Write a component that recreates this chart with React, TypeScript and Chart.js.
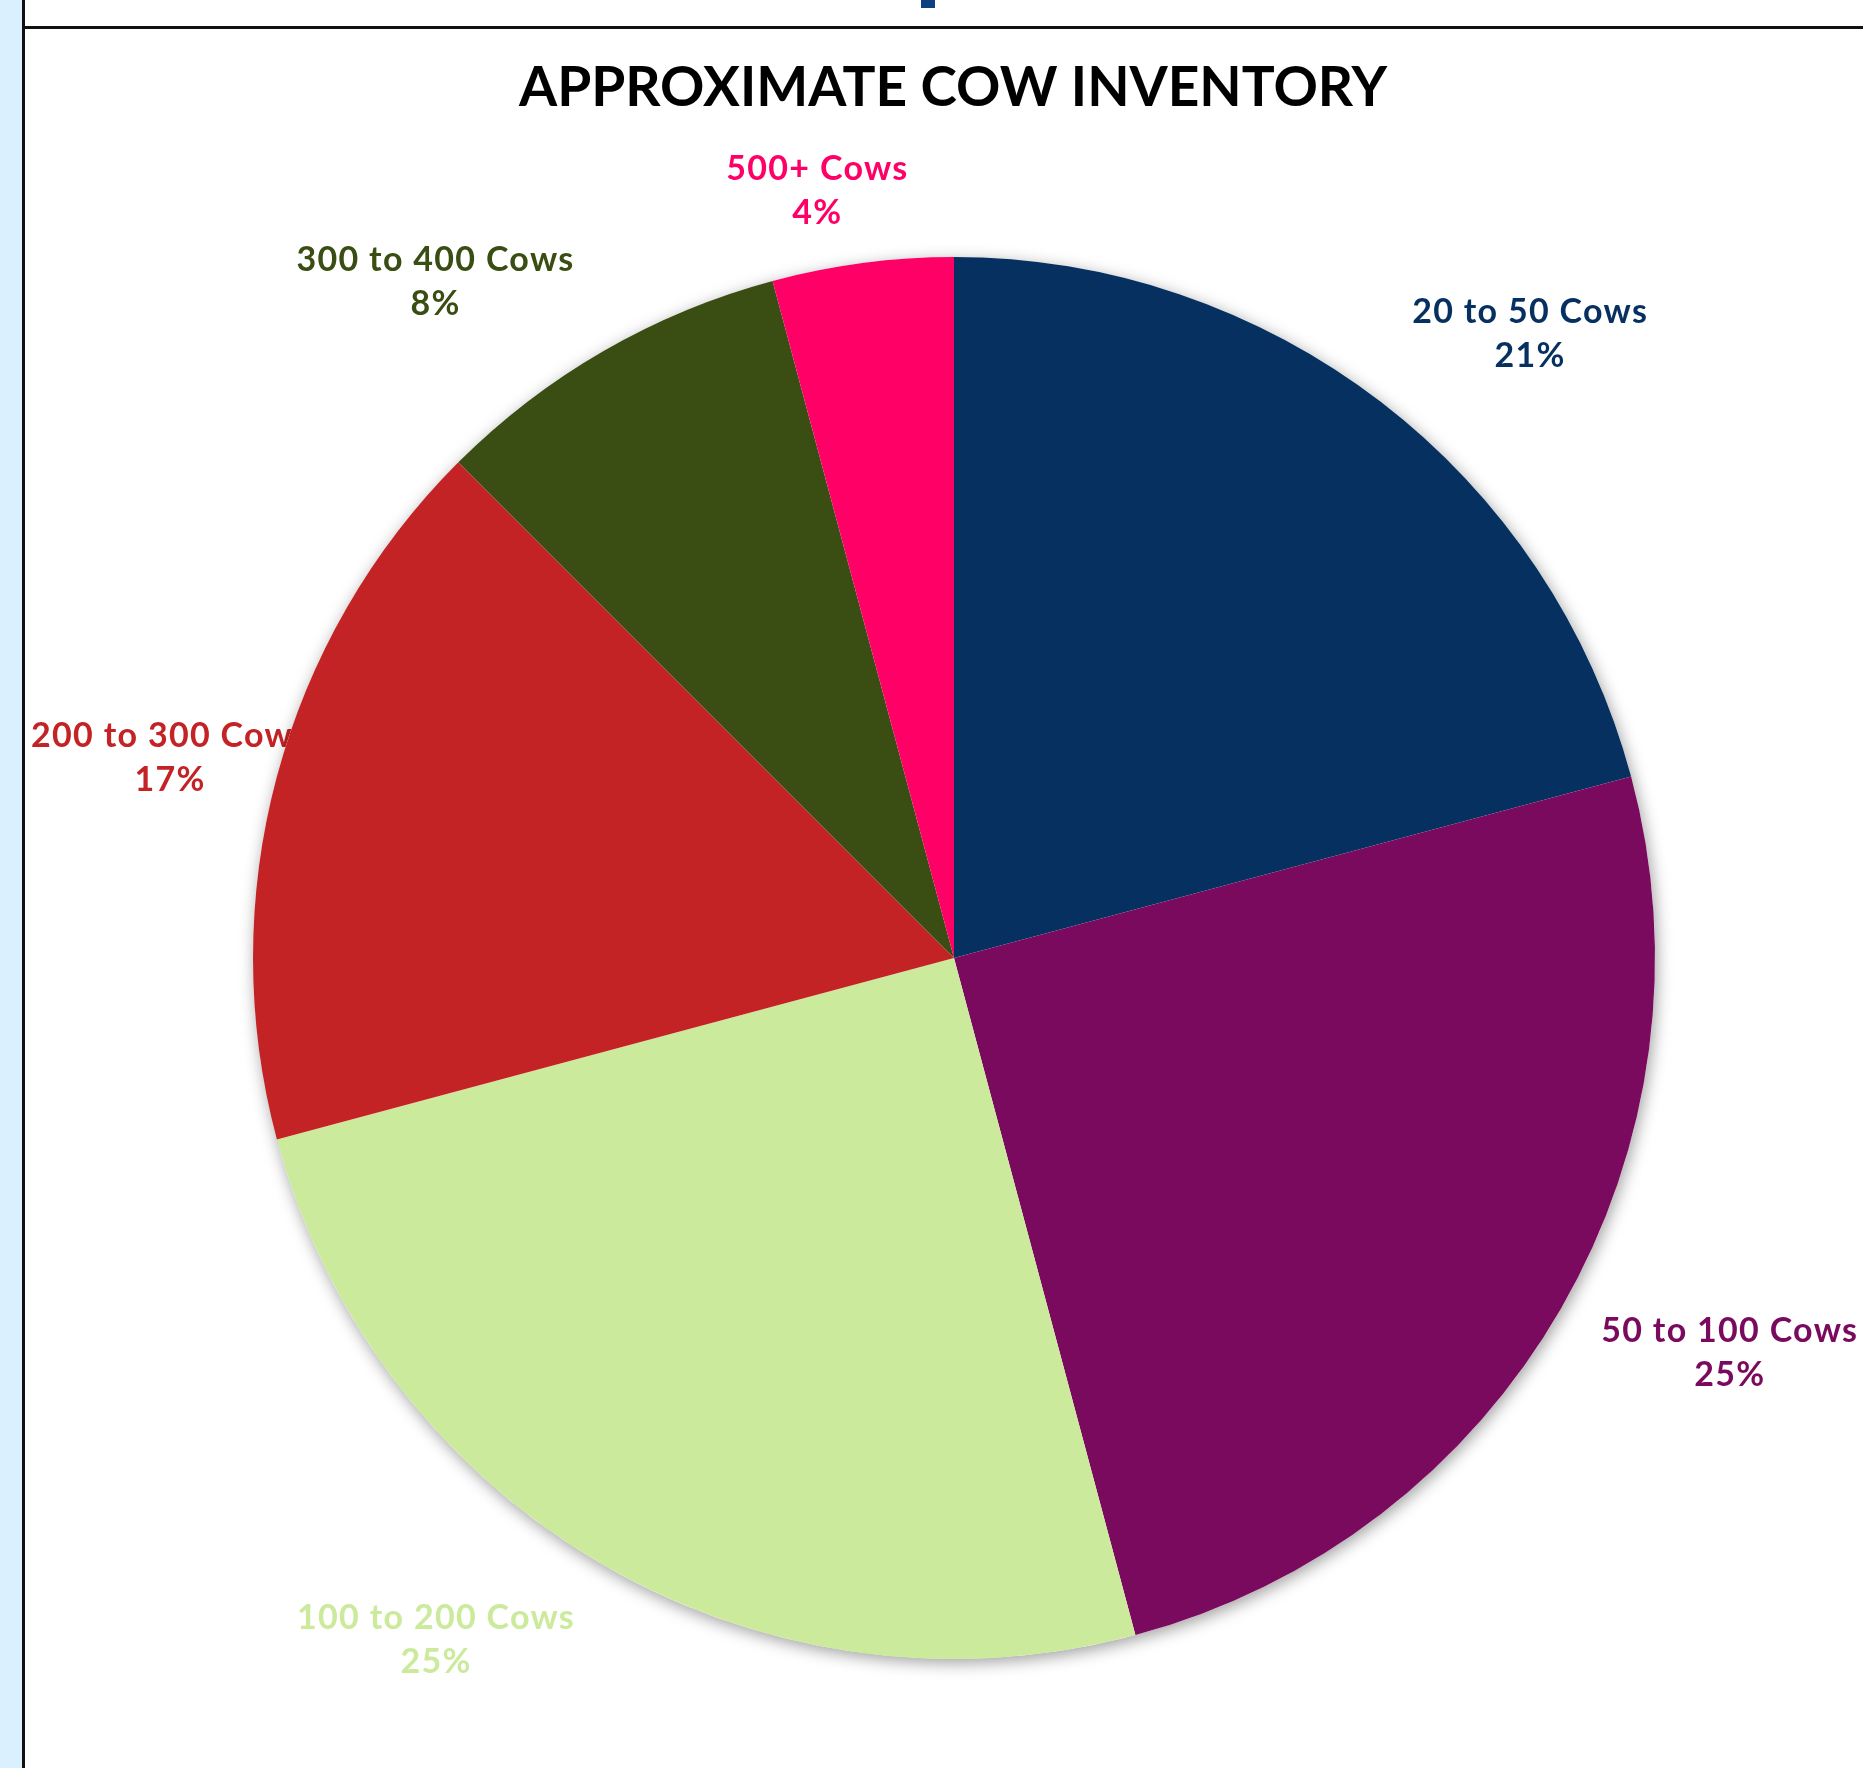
import React, { useEffect, useRef } from "react";
import { Chart, registerables } from "chart.js";

Chart.register(...registerables);

const TITLE = "APPROXIMATE COW INVENTORY";
const categories = ["20 to 50 Cows", "50 to 100 Cows", "100 to 200 Cows", "200 to 300 Cows", "300 to 400 Cows", "500+ Cows"];
const counts = [5, 6, 6, 4, 2, 1];
const percentLabels = ["21%", "25%", "25%", "17%", "8%", "4%"];
const colors = ["#06305F", "#7A0A5D", "#CBEA9B", "#C42326", "#3A4E13", "#FF0066"];
// label anchor placement: angle (deg, clockwise from top) and distance as multiple of radius
const labelAngles = [42.7, 117.0, 217.2, 284.3, 322.5, 349.9];
const labelDist = [1.212, 1.242, 1.222, 1.154, 1.215, 1.111];

const FONT = "Lato, 'Open Sans', sans-serif";

const decorPlugin = {
  id: "decor",
  beforeDatasetsDraw(chart: any) {
    const ctx = chart.ctx;
    const meta = chart.getDatasetMeta(0);
    const arc = meta.data[0];
    if (!arc) return;
    const { x, y, outerRadius } = arc.getProps(["x", "y", "outerRadius"], true);
    // labels (under the pie)
    ctx.save();
    ctx.font = `bold 34px ${FONT}`;
    (ctx as any).letterSpacing = "1.3px";
    ctx.textAlign = "center";
    ctx.textBaseline = "middle";
    categories.forEach((c, i) => {
      const a = (labelAngles[i] * Math.PI) / 180;
      const lx = x + Math.sin(a) * outerRadius * labelDist[i];
      const ly = y - Math.cos(a) * outerRadius * labelDist[i];
      ctx.fillStyle = colors[i];
      ctx.fillText(c, lx, ly - 22);
      ctx.fillText(percentLabels[i], lx, ly + 22);
    });
    ctx.restore();
    // shadow disc
    ctx.save();
    ctx.shadowColor = "rgba(0,0,0,0.38)";
    ctx.shadowBlur = 16;
    ctx.shadowOffsetX = 2;
    ctx.shadowOffsetY = 4;
    ctx.fillStyle = "#ffffff";
    ctx.beginPath();
    ctx.arc(x, y, outerRadius, 0, Math.PI * 2);
    ctx.fill();
    ctx.restore();
  },
  afterDraw(chart: any) {
    const ctx = chart.ctx;
    ctx.save();
    ctx.font = `bold 55px ${FONT}`;
    ctx.fillStyle = "#000000";
    ctx.textAlign = "center";
    ctx.textBaseline = "middle";
    ctx.fillText(TITLE, 953, 88);
    ctx.restore();
  },
};

export default function App() {
  const ref = useRef<HTMLCanvasElement>(null);
  useEffect(() => {
    if (!ref.current) return;
    const chart = new Chart(ref.current, {
      type: "pie",
      data: {
        labels: categories,
        datasets: [
          {
            data: counts,
            backgroundColor: colors,
            borderWidth: 0,
            hoverOffset: 0,
          },
        ],
      },
      options: {
        animation: false,
        responsive: false,
        devicePixelRatio: 1,
        layout: { padding: { left: 253, right: 208, top: 257, bottom: 109 } },
        plugins: {
          legend: { display: false },
          title: { display: false },
          tooltip: { enabled: false },
        },
        events: [],
      },
      plugins: [decorPlugin],
    });
    return () => chart.destroy();
  }, []);

  return (
    <div style={{ position: "fixed", left: 0, top: 0, width: 1863, height: 1768, background: "#ffffff", overflow: "hidden" }}>
      <div style={{ position: "absolute", left: 0, top: 0, width: 22, height: 1768, background: "#DAF0FE" }} />
      <div style={{ position: "absolute", left: 22, top: 0, width: 3, height: 1768, background: "#111111" }} />
      <div style={{ position: "absolute", left: 22, top: 26, width: 1841, height: 3, background: "#111111" }} />
      <div style={{ position: "absolute", left: 921, top: 0, width: 14, height: 8, background: "#0D427F" }} />
      <canvas ref={ref} width={1863} height={1768} style={{ position: "absolute", left: 0, top: 0, width: 1863, height: 1768 }} />
    </div>
  );
}
